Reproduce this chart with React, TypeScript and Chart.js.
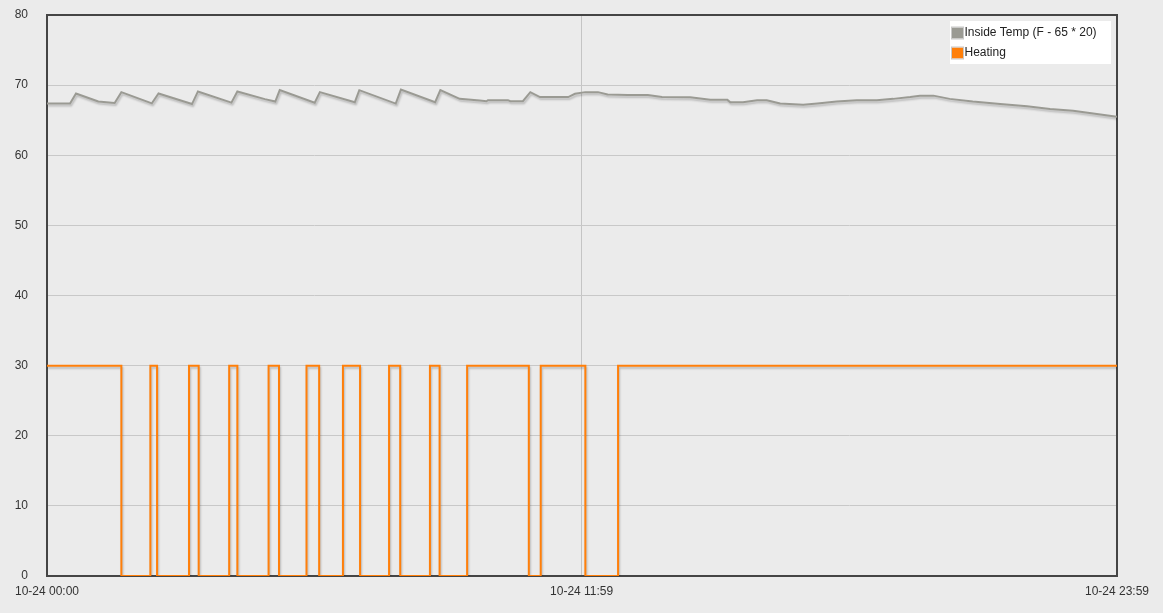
import React, { useEffect, useRef } from "react";
import { Chart, registerables } from "chart.js";

Chart.register(...registerables);

// minutes since 10-24 00:00
const heatingTimes = [0, 100, 139, 148, 191, 204, 245, 256, 298, 312, 349, 366, 398, 421, 460, 475, 515, 528, 565, 648, 664, 724, 768, 1439];
const heatingValues = [30, 0, 30, 0, 30, 0, 30, 0, 30, 0, 30, 0, 30, 0, 30, 0, 30, 0, 30, 0, 30, 0, 30, 30];

const tempTimes = [0, 31, 39, 69, 87, 91, 100, 141, 150, 195, 203, 248, 256, 293, 307, 313, 360, 367, 414, 420, 469, 476, 522, 529, 555, 582, 591, 593, 620, 623, 640, 650, 663, 701, 710, 724, 741, 754, 781, 808, 827, 865, 892, 915, 919, 936, 955, 968, 986, 1017, 1036, 1062, 1089, 1116, 1138, 1161, 1174, 1192, 1214, 1245, 1282, 1318, 1349, 1380, 1407, 1434, 1439];
const tempValues = [67.37, 67.37, 68.8, 67.66, 67.5, 67.45, 69.0, 67.4, 68.8, 67.3, 69.1, 67.5, 69.1, 68.0, 67.66, 69.3, 67.5, 69.0, 67.57, 69.28, 67.37, 69.37, 67.57, 69.3, 68.04, 67.8, 67.7, 67.85, 67.85, 67.7, 67.7, 69.0, 68.3, 68.3, 68.76, 69.0, 69.0, 68.66, 68.6, 68.6, 68.3, 68.26, 67.9, 67.9, 67.57, 67.57, 67.85, 67.85, 67.37, 67.2, 67.37, 67.66, 67.85, 67.85, 68.04, 68.3, 68.5, 68.5, 68.04, 67.66, 67.3, 67.0, 66.6, 66.33, 65.95, 65.57, 65.5];

const xTickValues = [0, 719, 1439];
const xTickLabels = ["10-24 00:00", "10-24 11:59", "10-24 23:59"];

const seriesNames = ["Inside Temp (F - 65 * 20)", "Heating"];
const seriesColors = ["#9a9a93", "#ff7f0a"];

const FONT = "'Liberation Sans', Arial, Helvetica, sans-serif";

const borderPlugin = {
  id: "frameBorder",
  beforeDatasetsDraw(chart: any) {
    const { ctx, chartArea } = chart;
    ctx.save();
    ctx.strokeStyle = "#454545";
    ctx.lineWidth = 2;
    ctx.strokeRect(chartArea.left, chartArea.top, chartArea.right - chartArea.left, chartArea.bottom - chartArea.top);
    ctx.restore();
  },
};

const shadowPlugin = {
  id: "lineShadow",
  beforeDatasetDraw(chart: any) {
    const ctx = chart.ctx;
    ctx.save();
    ctx.shadowColor = "rgba(0,0,0,0.22)";
    ctx.shadowOffsetX = 1;
    ctx.shadowOffsetY = 2;
    ctx.shadowBlur = 2;
  },
  afterDatasetDraw(chart: any) {
    chart.ctx.restore();
  },
};

const legendPlugin = {
  id: "insideLegend",
  afterDraw(chart: any) {
    const { ctx } = chart;
    const bx = 950, by = 21, bw = 161, bh = 43;
    ctx.save();
    ctx.fillStyle = "#ffffff";
    ctx.fillRect(bx, by, bw, bh);
    ctx.font = `12px ${FONT}`;
    ctx.textBaseline = "middle";
    seriesNames.forEach((name, i) => {
      const cy = 33 + i * 20;
      ctx.fillStyle = seriesColors[i];
      ctx.fillRect(bx + 2, cy - 5.5, 11, 11);
      ctx.strokeStyle = "#c8c8c8";
      ctx.lineWidth = 1;
      ctx.strokeRect(bx + 1.5, cy - 6, 12, 12);
      ctx.fillStyle = "#222";
      ctx.textAlign = "left";
      ctx.fillText(name, bx + 14.5, cy);
    });
    ctx.restore();
  },
};

export default function App() {
  const canvasRef = useRef<HTMLCanvasElement | null>(null);

  useEffect(() => {
    document.body.style.margin = "0";
    document.body.style.background = "#ebebeb";
    const canvas = canvasRef.current;
    if (!canvas) return;
    Chart.defaults.font.family = FONT;
    const chart = new Chart(canvas, {
      type: "line",
      data: {
        datasets: [
          {
            label: seriesNames[0],
            data: tempTimes.map((t, i) => ({ x: t, y: tempValues[i] })),
            borderColor: seriesColors[0],
            backgroundColor: seriesColors[0],
            borderWidth: 2,
            pointRadius: 0,
            tension: 0,
          },
          {
            label: seriesNames[1],
            data: heatingTimes.map((t, i) => ({ x: t, y: heatingValues[i] })),
            borderColor: seriesColors[1],
            backgroundColor: seriesColors[1],
            borderWidth: 2,
            pointRadius: 0,
            stepped: "before",
          },
        ],
      },
      options: {
        animation: false,
        responsive: true,
        maintainAspectRatio: false,
        layout: { padding: { left: 0, top: 15, right: 46, bottom: 0 } },
        plugins: {
          legend: { display: false },
          tooltip: { enabled: false },
        },
        scales: {
          x: {
            type: "linear",
            min: 0,
            max: 1439,
            afterBuildTicks: (scale: any) => {
              scale.ticks = xTickValues.map((v) => ({ value: v }));
            },
            afterFit: (scale: any) => {
              scale.height = 37;
            },
            ticks: {
              autoSkip: false,
              maxRotation: 0,
              padding: 8,
              color: "#333",
              font: { size: 12 },
              callback: (v: any) => {
                const idx = xTickValues.indexOf(Number(v));
                return idx >= 0 ? xTickLabels[idx] : "";
              },
            },
            grid: { color: "#c4c4c4", lineWidth: 1, drawTicks: false },
            border: { display: false },
          },
          y: {
            min: 0,
            max: 80,
            afterFit: (scale: any) => {
              scale.width = 47;
              scale.paddingTop = 0;
              scale.paddingBottom = 0;
            },
            ticks: { stepSize: 10, padding: 19, color: "#333", font: { size: 12 } },
            grid: { color: "#c8c8c8", lineWidth: 1, drawTicks: false },
            border: { display: false },
          },
        },
      },
      plugins: [borderPlugin, shadowPlugin, legendPlugin],
    } as any);
    return () => chart.destroy();
  }, []);

  return (
    <div style={{ position: "absolute", left: 0, top: 0, width: 1163, height: 613, background: "#ebebeb" }}>
      <canvas ref={canvasRef} style={{ display: "block" }} />
    </div>
  );
}
